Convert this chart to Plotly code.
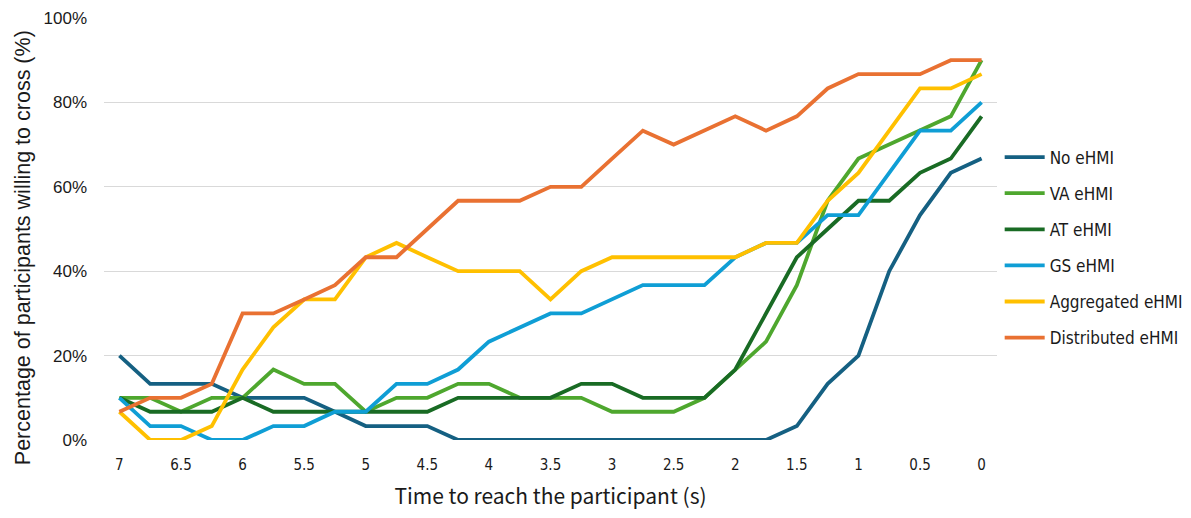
import plotly.graph_objects as go

# Time to reach the participant (s), counting down from 7 to 0 in 0.25 s steps
time_s = [7, 6.75, 6.5, 6.25, 6, 5.75, 5.5, 5.25, 5, 4.75, 4.5, 4.25, 4, 3.75, 3.5,
          3.25, 3, 2.75, 2.5, 2.25, 2, 1.75, 1.5, 1.25, 1, 0.75, 0.5, 0.25, 0]

# Percentage of participants willing to cross, per condition
no_ehmi = [20, 13.3, 13.3, 13.3, 10, 10, 10, 6.7, 3.3, 3.3, 3.3, 0, 0, 0, 0,
           0, 0, 0, 0, 0, 0, 0, 3.3, 13.3, 20, 40, 53.3, 63.3, 66.7]
va_ehmi = [10, 10, 6.7, 10, 10, 16.7, 13.3, 13.3, 6.7, 10, 10, 13.3, 13.3, 10, 10,
           10, 6.7, 6.7, 6.7, 10, 16.7, 23.3, 36.7, 56.7, 66.7, 70, 73.3, 76.7, 90]
at_ehmi = [10, 6.7, 6.7, 6.7, 10, 6.7, 6.7, 6.7, 6.7, 6.7, 6.7, 10, 10, 10, 10,
           13.3, 13.3, 10, 10, 10, 16.7, 30, 43.3, 50, 56.7, 56.7, 63.3, 66.7, 76.7]
gs_ehmi = [10, 3.3, 3.3, 0, 0, 3.3, 3.3, 6.7, 6.7, 13.3, 13.3, 16.7, 23.3, 26.7, 30,
           30, 33.3, 36.7, 36.7, 36.7, 43.3, 46.7, 46.7, 53.3, 53.3, 63.3, 73.3, 73.3, 80]
aggregated_ehmi = [6.7, 0, 0, 3.3, 16.7, 26.7, 33.3, 33.3, 43.3, 46.7, 43.3, 40, 40, 40, 33.3,
                   40, 43.3, 43.3, 43.3, 43.3, 43.3, 46.7, 46.7, 56.7, 63.3, 73.3, 83.3, 83.3, 86.7]
distributed_ehmi = [6.7, 10, 10, 13.3, 30, 30, 33.3, 36.7, 43.3, 43.3, 50, 56.7, 56.7, 56.7, 60,
                    60, 66.7, 73.3, 70, 73.3, 76.7, 73.3, 76.7, 83.3, 86.7, 86.7, 86.7, 90, 90]

series_names = ["No eHMI", "VA eHMI", "AT eHMI", "GS eHMI", "Aggregated eHMI", "Distributed eHMI"]
series_values = [no_ehmi, va_ehmi, at_ehmi, gs_ehmi, aggregated_ehmi, distributed_ehmi]
series_colors = ["#156082", "#4EA72E", "#196B24", "#0F9ED5", "#FFC000", "#E97132"]

x_ticks = [7, 6.5, 6, 5.5, 5, 4.5, 4, 3.5, 3, 2.5, 2, 1.5, 1, 0.5, 0]
y_ticks = [0, 20, 40, 60, 80, 100]

NARROW = "DejaVu Sans Condensed, Liberation Sans Narrow, sans-serif"
SANS = "Liberation Sans, Arial, sans-serif"
TITLE_X = "Noto Sans CJK JP, Noto Sans, sans-serif"
TEXT = "#1a1a1a"

fig = go.Figure()
for i, (name, vals, col) in enumerate(zip(series_names, series_values, series_colors)):
    fig.add_trace(go.Scatter(
        x=time_s, y=vals, name=name, mode="lines",
        line=dict(color=col, width=3.8),
        legendgroup=f"g{i}",
    ))

# Vertical axis caption, set slightly below the plot's centre line
fig.add_annotation(
    text="Percentage of participants willing to cross (%)",
    xref="paper", yref="paper", x=-0.0905, y=0.455,
    xanchor="center", yanchor="middle", textangle=-90, showarrow=False,
    font=dict(family=SANS, size=21.5, color=TEXT),
)

fig.update_layout(
    width=1191, height=518,
    margin=dict(l=104, r=194, t=18, b=78, autoexpand=False),
    paper_bgcolor="white", plot_bgcolor="white",
    font=dict(family=NARROW, size=15, color=TEXT),
    showlegend=True,
    legend=dict(
        x=1.003, y=0.712, xanchor="left", yanchor="top",
        font=dict(family=NARROW, size=17, color=TEXT),
        traceorder="grouped", tracegroupgap=11,
        itemwidth=40,
        bgcolor="rgba(0,0,0,0)",
    ),
    xaxis=dict(
        range=[7.125, -0.125],
        tickmode="array", tickvals=x_ticks,
        ticktext=[f"{t:g}" for t in x_ticks],
        showgrid=False, zeroline=False, showline=False,
        ticks="", ticklabelstandoff=14,
        tickfont=dict(family=NARROW, size=15),
        title=dict(text="Time to reach the participant (s)",
                   font=dict(family=TITLE_X, size=21), standoff=16),
    ),
    yaxis=dict(
        range=[0, 100],
        tickmode="array", tickvals=y_ticks,
        ticktext=[f"{t}%" for t in y_ticks],
        showgrid=True, gridcolor="#D9D9D9", gridwidth=1.3,
        zeroline=False, showline=False,
        ticks="", ticklabelstandoff=16, tickfont=dict(family=SANS, size=17),
    ),
)

fig.write_html("out.html")
